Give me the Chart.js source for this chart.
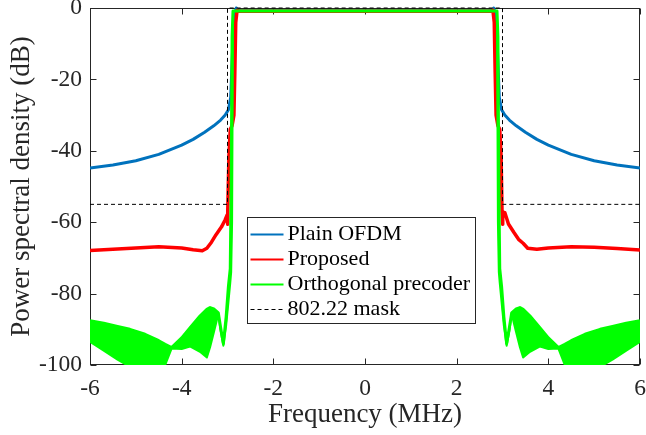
<!DOCTYPE html>
<html>
<head>
<meta charset="utf-8">
<script src="https://cdn.jsdelivr.net/npm/chart.js@4.4.1/dist/chart.umd.min.js"></script>
<style>
  html, body { margin: 0; padding: 0; background: #fff; }
</style>
</head>
<body>
<canvas id="psd" width="646" height="435"></canvas>
<script>
// PSD of the three transmit schemes against the 802.22 mask (MHz vs dB)
var SERIES = ['Plain OFDM', 'Proposed', 'Orthogonal precoder', '802.22 mask'];

var FREQ_TICKS = [-6, -4, -2, 0, 2, 4, 6];
var DB_TICKS = [-100, -80, -60, -40, -20, 0];

// Plain OFDM
var PLAIN_F  = [-6, -5.5, -5, -4.5, -4, -3.75, -3.5, -3.3, -3.15, -3.05, -2.98, -2.93, -2.89, -2.85, -2.81, -2.78,
                2.78, 2.81, 2.85, 2.89, 2.93, 2.98, 3.05, 3.15, 3.3, 3.5, 3.75, 4, 4.5, 5, 5.5, 6];
var PLAIN_DB = [-44.8, -44.0, -42.8, -41.0, -38.4, -36.8, -34.8, -33.0, -31.4, -30.0, -28.5, -25, -12, -2, 0, -0.8,
                -0.8, 0, -2, -12, -25, -28.5, -30.0, -31.4, -33.0, -34.8, -36.8, -38.4, -41.0, -42.8, -44.0, -44.8];

// Proposed
var PROP_F  = [-6, -5.5, -5, -4.5, -4, -3.75, -3.55, -3.45, -3.35, -3.25, -3.13, -3.05, -3.01, -3.0, -2.99,
               -2.97, -2.94, -2.9, -2.86, -2.84, -2.82, -2.79, -2.75,
               2.75, 2.79, 2.82, 2.84, 2.86, 2.9, 2.94, 2.97,
               2.99, 3.0, 3.01, 3.05, 3.13, 3.25, 3.35, 3.45, 3.55, 3.75, 4, 4.5, 5, 5.5, 6];
var PROP_DB = [-67.9, -67.6, -67.2, -66.9, -67.2, -67.7, -68.0, -67.3, -65.6, -63.5, -61.3, -59.3, -58.0, -60.6, -57,
               -42, -34, -33, -30, -18, -4, -0.6, -0.9,
               -0.9, -0.6, -4, -18, -30, -33, -34, -42,
               -57, -60.6, -58.0, -57.3, -60.5, -62.9, -64.8, -65.9, -67.3, -67.6, -67.2, -66.9, -67.0, -67.4, -67.8];

// Orthogonal precoder: upper / lower edge of the fast ripple
var ORTHO_F  = [-6, -5.7, -5.4, -5.13, -4.8, -4.5, -4.36, -4.22, -4, -3.82, -3.6, -3.45, -3.38, -3.3, -3.2,
                -3.15, -3.09, -3.03, -2.98, -2.94, -2.92, -2.9, -2.88,
                2.88, 2.9, 2.92, 2.94, 2.98, 3.03, 3.09, 3.15,
                3.2, 3.3, 3.38, 3.45, 3.6, 3.82, 4, 4.22, 4.36, 4.5, 4.8, 5.13, 5.4, 5.7, 6];
var ORTHO_HI = [-87.6, -88.3, -89.2, -90.0, -91.4, -93.2, -94.2, -95.1, -92.4, -89.6, -86.3, -84.4, -83.9, -84.3, -85.4,
                -89.5, -94.0, -86.5, -78, -73, -50, -8, -0.85,
                -0.85, -8, -50, -73, -78, -86.5, -94.0, -89.5,
                -85.4, -84.3, -83.9, -84.4, -86.3, -89.6, -92.4, -95.1, -94.2, -93.2, -91.4, -90.0, -89.2, -88.3, -87.6];
var ORTHO_LO = [-93.5, -96, -98.5, -100.5, -103, -103, -100, -95.4, -95.5, -94.8, -96.3, -97.9, -95, -91, -85.8,
                -90.5, -94.6, -89, -82.4, -77, -74, -60, -0.85,
                -0.85, -60, -74, -77, -82.4, -89, -94.6, -90.5,
                -85.8, -91, -95, -97.9, -96.3, -94.8, -95.5, -95.4, -100, -103, -103, -100.5, -98.5, -96, -93.5];

// 802.22 mask
var MASK_F  = [-6, -3, -3, 3, 3, 6];
var MASK_DB = [-55, -55, 0, 0, -55, -55];

function pts(xs, ys) {
  return xs.map(function (x, i) { return {x: x, y: ys[i]}; });
}

var SERIF = '"Liberation Serif", "Times New Roman", serif';
var AXIS_INK = '#262626';
var topClip = {left: 0, top: 4, right: 0, bottom: 0};

// box and inward ticks, drawn under the curves
var axesBox = {
  id: 'axesBox',
  beforeDatasetsDraw: function (chart) {
    var ctx = chart.ctx, a = chart.chartArea, sx = chart.scales.x, sy = chart.scales.y;
    var L = Math.round(a.left) + 0.5, R = Math.round(a.right) - 0.5;
    var T = Math.round(a.top) + 0.5, B = Math.round(a.bottom) - 0.5;
    ctx.save();
    ctx.strokeStyle = AXIS_INK;
    ctx.lineWidth = 1;
    ctx.strokeRect(L, T, R - L, B - T);
    ctx.beginPath();
    FREQ_TICKS.forEach(function (v) {
      var px = Math.round(sx.getPixelForValue(v)) + 0.5;
      ctx.moveTo(px, B); ctx.lineTo(px, B - 6);
      ctx.moveTo(px, T); ctx.lineTo(px, T + 6);
    });
    DB_TICKS.forEach(function (v) {
      var py = Math.round(sy.getPixelForValue(v)) + 0.5;
      ctx.moveTo(L, py); ctx.lineTo(L + 6, py);
      ctx.moveTo(R, py); ctx.lineTo(R - 6, py);
    });
    ctx.stroke();
    ctx.restore();
  }
};

// boxed legend inside the plot
var boxLegend = {
  id: 'boxLegend',
  afterDraw: function (chart) {
    var ctx = chart.ctx, a = chart.chartArea;
    var bx = Math.round(a.left + 157) + 0.5, by = Math.round(a.top + 209) + 0.5;
    var bw = 228, bh = 106;
    var items = [0, 1, 2, 4];
    ctx.save();
    ctx.fillStyle = '#fff';
    ctx.fillRect(bx, by, bw, bh);
    ctx.strokeStyle = AXIS_INK;
    ctx.lineWidth = 1;
    ctx.strokeRect(bx, by, bw, bh);
    ctx.font = '22px ' + SERIF;
    ctx.textBaseline = 'middle';
    items.forEach(function (di, i) {
      var ds = chart.data.datasets[di];
      var y = by + 16 + i * 25;
      ctx.beginPath();
      ctx.strokeStyle = ds.borderColor;
      ctx.lineWidth = ds.borderDash ? 1 : 2;
      ctx.setLineDash(ds.borderDash || []);
      ctx.moveTo(bx + 3, Math.round(y) + 0.5);
      ctx.lineTo(bx + 36, Math.round(y) + 0.5);
      ctx.stroke();
      ctx.setLineDash([]);
      ctx.fillStyle = '#000';
      ctx.fillText(ds.label, bx + 40, y + 1);
    });
    ctx.restore();
  }
};

new Chart(document.getElementById('psd'), {
  type: 'line',
  data: {
    datasets: [{
      label: SERIES[0],
      data: pts(PLAIN_F, PLAIN_DB),
      borderColor: '#0072bd',
      borderWidth: 3,
      order: 4,
      clip: topClip
    }, {
      label: SERIES[1],
      data: pts(PROP_F, PROP_DB),
      borderColor: '#ff0000',
      borderWidth: 3.5,
      order: 3,
      clip: topClip
    }, {
      label: SERIES[2],
      data: pts(ORTHO_F, ORTHO_HI),
      borderColor: '#00ff00',
      borderWidth: 3,
      order: 2
    }, {
      label: SERIES[2],
      data: pts(ORTHO_F, ORTHO_LO),
      borderColor: '#00ff00',
      backgroundColor: '#00ff00',
      borderWidth: 2,
      fill: 2,
      order: 2
    }, {
      label: SERIES[3],
      data: pts(MASK_F, MASK_DB),
      borderColor: '#000000',
      borderWidth: 1,
      borderDash: [4, 3],
      order: 1,
      clip: topClip
    }]
  },
  options: {
    responsive: false,
    animation: false,
    devicePixelRatio: 1,
    layout: {padding: {top: 8, right: 6, bottom: 0, left: 0}},
    elements: {
      point: {radius: 0, hoverRadius: 0},
      line: {tension: 0, borderJoinStyle: 'round', borderCapStyle: 'butt'}
    },
    plugins: {
      legend: {display: false},
      tooltip: {enabled: false}
    },
    scales: {
      x: {
        type: 'linear',
        min: -6,
        max: 6,
        afterBuildTicks: function (s) { s.ticks = FREQ_TICKS.map(function (v) { return {value: v}; }); },
        afterFit: function (s) { s.height = 70; s.paddingLeft = 0; s.paddingRight = 0; },
        grid: {display: false, drawTicks: false},
        border: {display: false},
        ticks: {font: {family: SERIF, size: 23.5}, color: AXIS_INK, padding: 10, maxRotation: 0},
        title: {
          display: true,
          text: 'Frequency (MHz)',
          font: {family: SERIF, size: 27},
          color: AXIS_INK,
          padding: {top: 0, bottom: 4}
        }
      },
      y: {
        type: 'linear',
        min: -100,
        max: 0,
        afterBuildTicks: function (s) { s.ticks = DB_TICKS.map(function (v) { return {value: v}; }); },
        afterFit: function (s) { s.width = 90; s.paddingTop = 0; s.paddingBottom = 0; },
        grid: {display: false, drawTicks: false},
        border: {display: false},
        ticks: {font: {family: SERIF, size: 23.5}, color: AXIS_INK, padding: 8},
        title: {
          display: true,
          text: 'Power spectral density (dB)',
          font: {family: SERIF, size: 27},
          color: AXIS_INK,
          padding: {top: 6, bottom: 0}
        }
      }
    }
  },
  plugins: [axesBox, boxLegend]
});
</script>
</body>
</html>
